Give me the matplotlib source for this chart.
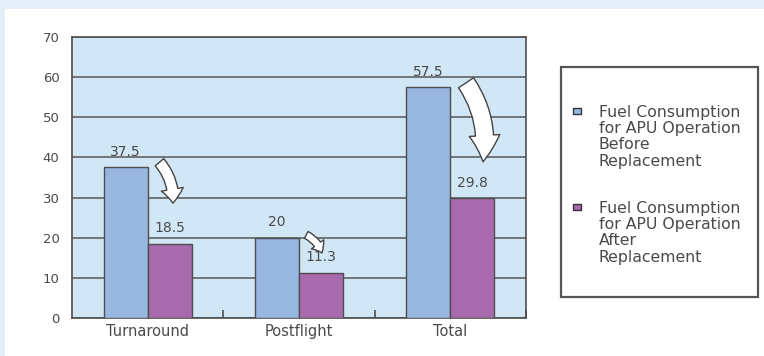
import numpy as np
import matplotlib
matplotlib.use("Agg")
import matplotlib.pyplot as plt
from matplotlib.patches import Rectangle, FancyArrowPatch

# APU fuel consumption before / after replacement
categories = ["Turnaround", "Postflight", "Total"]
before = [37.5, 20, 57.5]
after = [18.5, 11.3, 29.8]
series_names = [
    "Fuel Consumption\nfor APU Operation\nBefore\nReplacement",
    "Fuel Consumption\nfor APU Operation\nAfter\nReplacement",
]
yticks = [0, 10, 20, 30, 40, 50, 60, 70]

BLUE = "#97b7e0"
PURPLE = "#a66aad"
PLOT_BG = "#d1e7f6"
FRAME_BG = "#e5eef8"
EDGE = "#4d4d4d"
TEXT = "#4a4a4a"

W, H = 764, 356
fig = plt.figure(figsize=(W / 100, H / 100), dpi=100)
fig.patch.set_facecolor(FRAME_BG)


def px(x, y):
    # pixel position (from top-left) -> figure fraction
    return x / W, 1 - y / H


# white panel
fig.add_artist(Rectangle(px(5, 356), 1, (356 - 9) / H, transform=fig.transFigure,
                         facecolor="white", edgecolor="none", zorder=0))

l, b = px(72, 318)
r, t = px(526, 37)
ax = fig.add_axes([l, b, r - l, t - b])
ax.set_facecolor(PLOT_BG)

x = np.arange(len(categories))
w = 0.29
ax.bar(x - w / 2, before, w, color=BLUE, edgecolor=EDGE, linewidth=1.0, zorder=3)
ax.bar(x + w / 2, after, w, color=PURPLE, edgecolor=EDGE, linewidth=1.0, zorder=3)

for xi, v in zip(x - w / 2, before):
    ax.annotate(f"{v:g}", (xi, v), xytext=(0, 6), textcoords="offset points",
                ha="center", va="bottom", fontsize=10, color=TEXT)
for xi, v in zip(x + w / 2, after):
    ax.annotate(f"{v:g}", (xi, v), xytext=(0, 6), textcoords="offset points",
                ha="center", va="bottom", fontsize=10, color=TEXT)

ax.set_xlim(-0.5, len(categories) - 0.5)
ax.set_ylim(0, 70)
ax.set_yticks(yticks)
ax.tick_params(axis="y", length=0, pad=9, labelsize=9.5, labelcolor=TEXT)
ax.yaxis.grid(True, color="#555555", linewidth=1.1, zorder=1)
ax.set_axisbelow(True)

# category labels at centers, tick marks at the boundaries
ax.set_xticks(x + 0.5)
ax.set_xticklabels([])
ax.tick_params(axis="x", which="major", direction="in", length=6, width=1.2, color=EDGE)
ax.set_xticks(x, minor=True)
ax.set_xticklabels(categories, minor=True)
ax.tick_params(axis="x", which="minor", length=0, pad=4, labelsize=10.5, labelcolor=TEXT)

for s in ax.spines.values():
    s.set_color(EDGE)
    s.set_linewidth(1.2)

# curved "drop" arrows from each before bar to its after bar
arrows = [
    ((0.078, 38.8), (0.167, 28.6), "simple,head_width=16,head_length=10,tail_width=8"),
    ((1.048, 20.7), (1.152, 16.2), "simple,head_width=11,head_length=7,tail_width=5.5"),
    ((2.104, 58.6), (2.216, 38.9), "simple,head_width=22,head_length=19,tail_width=13"),
]
for start, end, style in arrows:
    ax.add_patch(FancyArrowPatch(start, end, arrowstyle=style,
                                 connectionstyle="arc3,rad=-0.2",
                                 shrinkA=0, shrinkB=0, facecolor="white",
                                 edgecolor="#444444", linewidth=1.0, zorder=5))

# legend box
lx, ly = px(561, 297)
rx, ry = px(758, 67)
fig.add_artist(Rectangle((lx, ly), rx - lx, ry - ly, transform=fig.transFigure,
                         facecolor="white", edgecolor="#555555", linewidth=1.6, zorder=2))
for name, color, ytop in zip(series_names, [BLUE, PURPLE], [108, 204]):
    sx, sy = px(573, ytop + 6)
    fig.add_artist(Rectangle((sx, sy), 8 / W, 6 / H, transform=fig.transFigure,
                             facecolor=color, edgecolor="#333333", linewidth=1.0, zorder=3))
    tx, ty = px(599, ytop - 3)
    fig.text(tx, ty, name, ha="left", va="top", fontsize=11.3, color=TEXT,
             linespacing=1.1, zorder=3)

fig.savefig("out.png", dpi=100, facecolor=fig.get_facecolor())
